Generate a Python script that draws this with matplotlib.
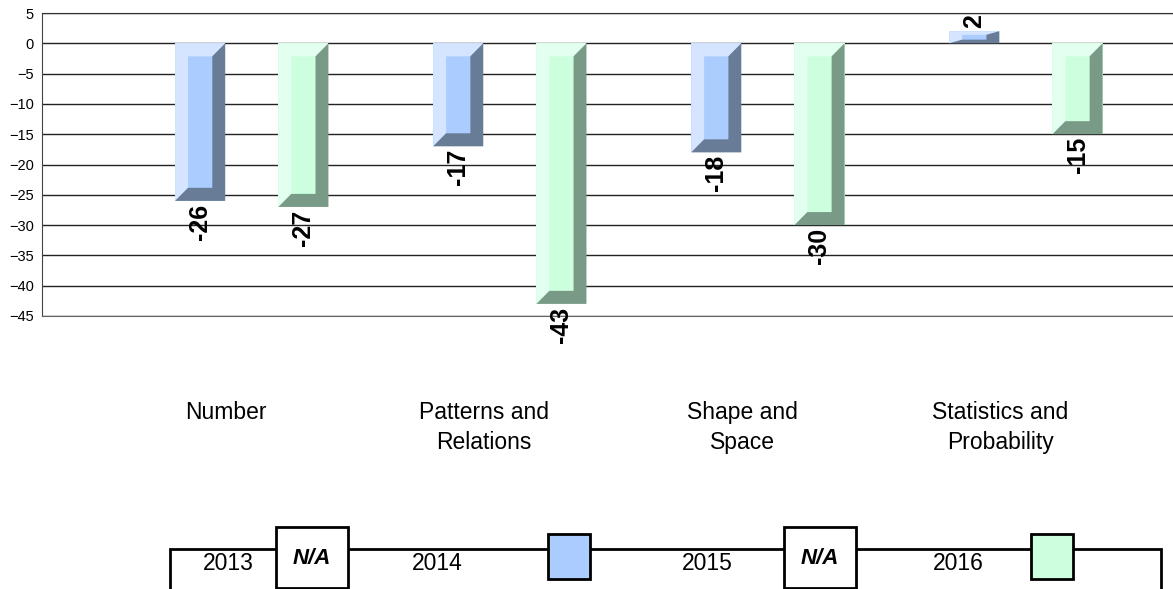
import matplotlib
matplotlib.use("Agg")
import matplotlib.pyplot as plt
from matplotlib.patches import Polygon, Rectangle

plt.rcParams['font.family'] = ['Liberation Sans', 'DejaVu Sans']

categories = ["Number", "Patterns and\nRelations", "Shape and\nSpace", "Statistics and\nProbability"]
years = ["2013", "2014", "2015", "2016"]
vals_2014 = [-26, -17, -18, 2]
vals_2016 = [-27, -43, -30, -15]

# face / light bevel / dark bevel
blue = ('#aaccff', '#d5e5ff', '#687c98')
green = ('#ccffdd', '#e3fff0', '#7a9a88')

slot = [-0.3, -0.1, 0.1, 0.3]
bar_w = 0.194
bx = 0.05
by = 2.15


def bevel_bar(ax, x, h, colors):
    face, light, dark = colors
    ax.bar(x, h, width=bar_w, color=face, zorder=3)
    x0, x1 = x - bar_w / 2, x + bar_w / 2
    lo, hi = min(0, h), max(0, h)
    b = min(by, abs(h) * 0.3)
    ax.add_patch(Polygon([(x0, lo), (x0, hi), (x1, hi), (x1 - bx, hi - b),
                          (x0 + bx, hi - b), (x0 + bx, lo + b)],
                         closed=True, facecolor=light, edgecolor='none', zorder=4))
    ax.add_patch(Polygon([(x1, hi), (x1, lo), (x0, lo), (x0 + bx, lo + b),
                          (x1 - bx, lo + b), (x1 - bx, hi - b)],
                         closed=True, facecolor=dark, edgecolor='none', zorder=4))
    if h < 0:
        ax.annotate(f"{h}", (x, h), xytext=(0, -2), textcoords='offset points',
                    rotation=90, ha='center', va='top', fontsize=18, fontweight='bold')
    else:
        ax.annotate(f"{h}", (x, h), xytext=(0, 2), textcoords='offset points',
                    rotation=90, ha='center', va='bottom', fontsize=18, fontweight='bold')


fig = plt.figure(figsize=(11.73, 5.89), dpi=100)
ax = fig.add_axes([42 / 1173, 273 / 589, 1131 / 1173, 303 / 589])

for i in range(len(categories)):
    bevel_bar(ax, i + slot[1], vals_2014[i], blue)
    bevel_bar(ax, i + slot[3], vals_2016[i], green)

ax.set_ylim(-45, 5)
ax.set_yticks(range(-45, 6, 5))
ax.set_xlim(-0.713, 3.67)
ax.set_xticks(range(len(categories)))
ax.set_xticklabels(categories, fontsize=16.5)
for lbl in ax.get_xticklabels():
    lbl.set_linespacing(1.4)
ax.tick_params(axis='x', length=0, pad=61)
ax.tick_params(axis='y', length=0, pad=6, labelsize=10.5)
ax.grid(True, axis='y', color='#222222', linewidth=1, zorder=0)
ax.set_axisbelow(True)
ax.spines['right'].set_visible(False)
ax.spines['left'].set_color('#444444')
ax.spines['top'].set_color('#333333')
ax.spines['bottom'].set_color('#666666')

# legend drawn as a table-like box
fig.patches.append(Rectangle((170 / 1173, -0.05), 991 / 1173, (589 - 549) / 589 + 0.05,
                             transform=fig.transFigure, facecolor='white',
                             edgecolor='black', linewidth=2))
text_x = [228, 437, 707, 958]
for yr, tx in zip(years, text_x):
    fig.text(tx / 1173, 1 - 563 / 589, yr, ha='center', va='center', fontsize=16.5)
for cx in [312, 820]:
    fig.patches.append(Rectangle(((cx - 36) / 1173, 1 - 588 / 589), 72 / 1173, 61 / 589,
                                 transform=fig.transFigure, facecolor='white',
                                 edgecolor='black', linewidth=2))
    fig.text(cx / 1173, 1 - 558 / 589, "N/A", ha='center', va='center',
             fontsize=16, fontweight='bold', fontstyle='italic')
for cx, col in [(569, blue[0]), (1052, green[0])]:
    fig.patches.append(Rectangle(((cx - 21) / 1173, 1 - 579 / 589), 42 / 1173, 45 / 589,
                                 transform=fig.transFigure, facecolor=col,
                                 edgecolor='black', linewidth=2))

fig.savefig("out.png", dpi=100)
